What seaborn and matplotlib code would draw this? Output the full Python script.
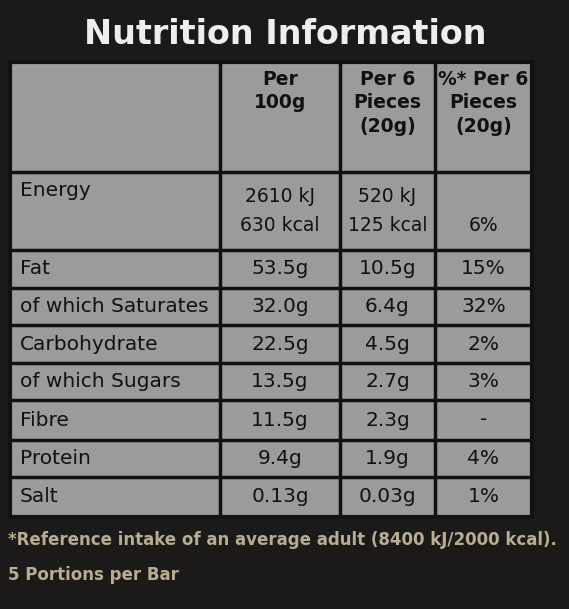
import matplotlib
matplotlib.use("Agg")
import matplotlib.pyplot as plt
import seaborn as sns
from matplotlib.patches import Rectangle

sns.set_style("white")
plt.rcParams['font.family'] = ['DejaVu Sans']

title = "Nutrition Information"
headers = ["", "Per\n100g", "Per 6\nPieces\n(20g)", "%* Per 6\nPieces\n(20g)"]
nutrients = ["Energy", "Fat", "of which Saturates", "Carbohydrate", "of which Sugars", "Fibre", "Protein", "Salt"]
per100 = ["2610 kJ\n630 kcal", "53.5g", "32.0g", "22.5g", "13.5g", "11.5g", "9.4g", "0.13g"]
per20 = ["520 kJ\n125 kcal", "10.5g", "6.4g", "4.5g", "2.7g", "2.3g", "1.9g", "0.03g"]
pct = ["\n6%", "15%", "32%", "2%", "3%", "-", "4%", "1%"]
footer = ["*Reference intake of an average adult (8400 kJ/2000 kcal).", "5 Portions per Bar"]

col_edges = [10, 220, 340, 435, 532]
row_edges = [62, 172, 250, 288, 325, 363, 400, 440, 477, 517]

fig = plt.figure(figsize=(5.69, 6.09), dpi=100)
fig.patch.set_facecolor("#1b1a18")
ax = fig.add_axes([0, 0, 1, 1])
ax.set_xlim(0, 569); ax.set_ylim(609, 0); ax.axis("off")

ax.text(285, 35, title, ha="center", va="center", color="#eeeeee", fontsize=24, fontweight="bold")

grey = "#9b9b9b"
ax.add_patch(Rectangle((col_edges[0], row_edges[0]), col_edges[-1]-col_edges[0], row_edges[-1]-row_edges[0],
                       facecolor=grey, edgecolor="#111111", lw=3))
for x in col_edges[1:-1]:
    ax.plot([x, x], [row_edges[0], row_edges[-1]], color="#111111", lw=2.5)
for y in row_edges[1:-1]:
    ax.plot([col_edges[0], col_edges[-1]], [y, y], color="#111111", lw=2.5)

tc = "#111111"
fs = 14.5
for j, h in enumerate(headers[1:], start=1):
    ax.text((col_edges[j]+col_edges[j+1])/2, row_edges[0]+8, h, ha="center", va="top", fontsize=13.5,
            fontweight="bold", color=tc, linespacing=1.3)
for i, name in enumerate(nutrients):
    y0, y1 = row_edges[i+1], row_edges[i+2]
    ym = (y0+y1)/2
    yy = y0+18 if i == 0 else ym
    ax.text(col_edges[0]+10, yy, name, ha="left", va="center", fontsize=fs, color=tc)
    for j, vals in enumerate([per100, per20, pct], start=1):
        ax.text((col_edges[j]+col_edges[j+1])/2, ym, vals[i], ha="center", va="center", fontsize=fs if i else 13.5,
                color=tc, linespacing=1.7)

ax.text(8, 540, footer[0], ha="left", va="center", fontsize=12, color="#b8ad92", fontweight="bold")
ax.text(8, 575, footer[1], ha="left", va="center", fontsize=12, color="#b8ad92", fontweight="bold")

fig.savefig("out.png", dpi=100, facecolor=fig.get_facecolor())
